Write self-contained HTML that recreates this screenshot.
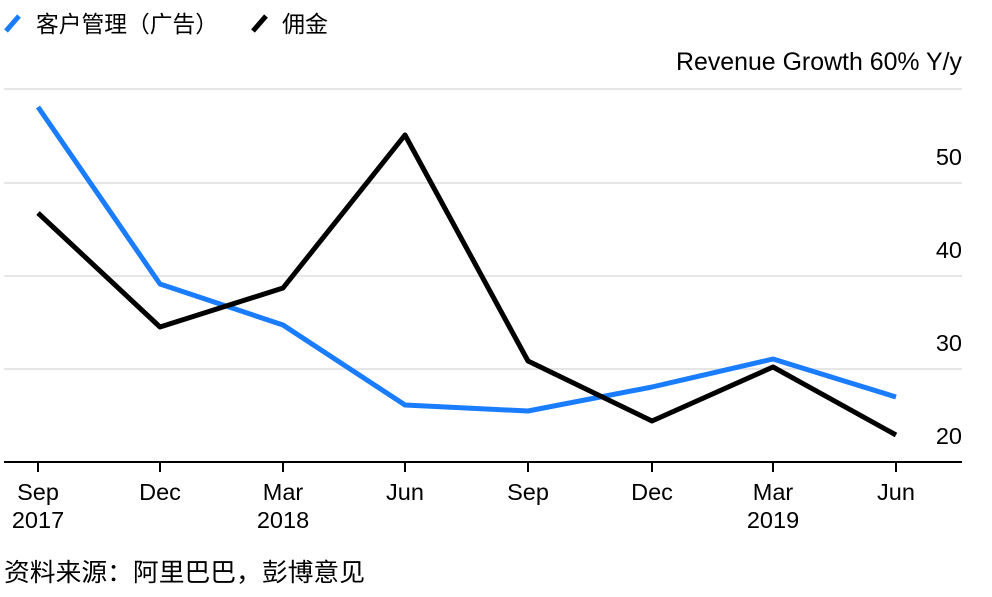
<!DOCTYPE html>
<html><head><meta charset="utf-8"><style>
body{margin:0;background:#fff;width:992px;height:592px;overflow:hidden;font-family:"Liberation Sans","Noto Sans CJK SC",sans-serif;}
</style></head><body>
<svg width="992" height="592" xmlns="http://www.w3.org/2000/svg" font-family="Liberation Sans, Noto Sans CJK SC, sans-serif">
<rect width="992" height="592" fill="#fff"/>
<line x1="6" y1="31" x2="19" y2="16" stroke="#1a7cff" stroke-width="5"/>
<text x="36" y="32" font-size="23" fill="#000" textLength="182" lengthAdjust="spacingAndGlyphs">客户管理（广告）</text>
<line x1="253" y1="31" x2="266" y2="16" stroke="#000" stroke-width="5"/>
<text x="282" y="32" font-size="23" fill="#000">佣金</text>
<text x="962" y="70" font-size="25" text-anchor="end" fill="#000" textLength="286" lengthAdjust="spacingAndGlyphs">Revenue Growth 60% Y/y</text>
<g stroke="#e6e6e6" stroke-width="2">
<line x1="4" y1="89" x2="962" y2="89"/>
<line x1="4" y1="183" x2="962" y2="183"/>
<line x1="4" y1="276" x2="962" y2="276"/>
<line x1="4" y1="369" x2="962" y2="369"/>
</g>
<line x1="4" y1="462" x2="962" y2="462" stroke="#000" stroke-width="2"/>
<g font-size="23.5" text-anchor="end" fill="#000">
<text x="962" y="165">50</text><text x="962" y="258">40</text><text x="962" y="351">30</text><text x="962" y="444">20</text>
</g>
<g stroke="#000" stroke-width="2">
<line x1="38" y1="462" x2="38" y2="472"/><line x1="160" y1="462" x2="160" y2="472"/><line x1="283" y1="462" x2="283" y2="472"/><line x1="405" y1="462" x2="405" y2="472"/><line x1="528" y1="462" x2="528" y2="472"/><line x1="652" y1="462" x2="652" y2="472"/><line x1="773" y1="462" x2="773" y2="472"/><line x1="896" y1="462" x2="896" y2="472"/>
</g>
<g font-size="23.5" text-anchor="middle" fill="#000">
<text x="38" y="500">Sep</text><text x="38" y="528">2017</text>
<text x="160" y="500">Dec</text>
<text x="283" y="500">Mar</text><text x="283" y="528">2018</text>
<text x="405" y="500">Jun</text>
<text x="528" y="500">Sep</text>
<text x="652" y="500">Dec</text>
<text x="773" y="500">Mar</text><text x="773" y="528">2019</text>
<text x="896" y="500">Jun</text>
</g>
<polyline fill="none" stroke="#1a7cff" stroke-width="5" stroke-linejoin="round" points="38,107 160,284 283,325 405,405 528,411 652,387 773,359 896,397"/>
<polyline fill="none" stroke="#000" stroke-width="5" stroke-linejoin="round" points="38,213 160,327 283,288 405,135 528,361 652,421 773,367 896,435"/>
<text x="4" y="581" font-size="25" fill="#000" textLength="361" lengthAdjust="spacingAndGlyphs">资料来源：阿里巴巴，彭博意见</text>
</svg>
</body></html>
